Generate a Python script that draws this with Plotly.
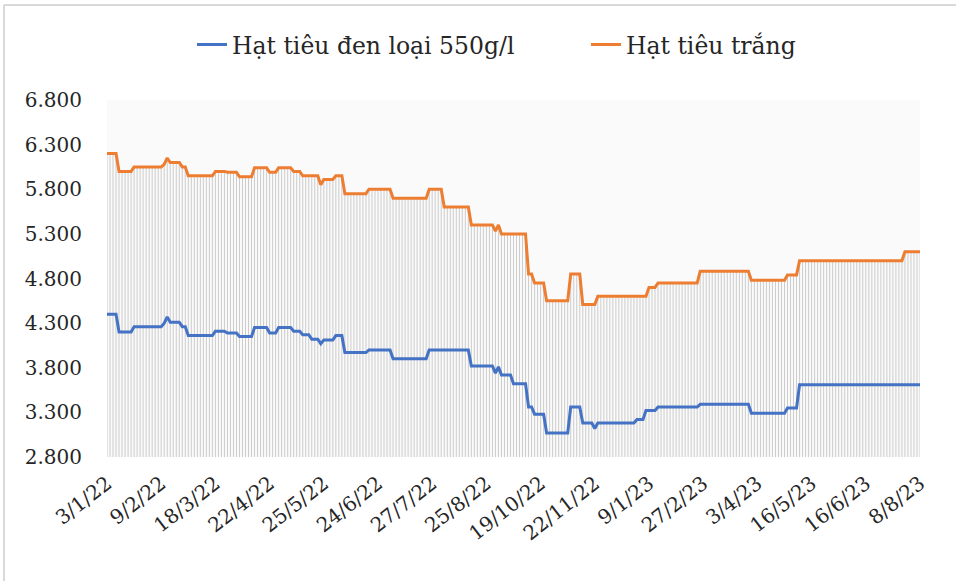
import plotly.graph_objects as go

# Step levels, with the number of consecutive daily
# observations that each level lasts.
white_levels = [6200, 6000, 6050, 6080, 6150, 6100, 6050, 5950, 6000, 5990, 5940, 6040,
                5990, 6040, 6000, 5950, 5950, 5850, 5910, 5950, 5750, 5800, 5700, 5800,
                5600, 5400, 5330, 5400, 5300, 5300, 4850, 4750, 4550, 4850, 4510, 4510,
                4600, 4600, 4600, 4700, 4750, 4880, 4780, 4840, 5000, 5100]
black_levels = [4400, 4200, 4260, 4300, 4370, 4310, 4260, 4160, 4210, 4190, 4150, 4250,
                4190, 4250, 4210, 4170, 4120, 4070, 4110, 4160, 3970, 4000, 3900, 4000,
                4000, 3820, 3740, 3810, 3720, 3620, 3360, 3280, 3070, 3360, 3180, 3120,
                3180, 3220, 3320, 3320, 3360, 3390, 3290, 3350, 3610, 3610]
run_lengths = [4, 5, 10, 1, 1, 4, 2, 9, 4, 4, 5, 5,
               3, 5, 3, 3, 3, 1, 4, 3, 8, 8, 12, 5,
               9, 8, 1, 1, 4, 5, 2, 4, 8, 4, 4, 1,
               13, 3, 1, 3, 14, 17, 12, 4, 35, 6]

tick_labels = ["3/1/22", "9/2/22", "18/3/22", "22/4/22", "25/5/22", "24/6/22", "27/7/22",
               "25/8/22", "19/10/22", "22/11/22", "9/1/23", "27/2/23", "3/4/23",
               "16/5/23", "16/6/23", "8/8/23"]
tick_step = 18

y_ticks = [2800, 3300, 3800, 4300, 4800, 5300, 5800, 6300, 6800]
y_tick_text = ["2.800", "3.300", "3.800", "4.300", "4.800", "5.300", "5.800", "6.300", "6.800"]

name_black = "Hạt tiêu đen loại 550g/l"
name_white = "Hạt tiêu trắng"

white = [v for v, n in zip(white_levels, run_lengths) for _ in range(n)]
black = [v for v, n in zip(black_levels, run_lengths) for _ in range(n)]
idx = list(range(len(white)))

# drop lines from each white-pepper point to the axis floor
drop_x, drop_y = [], []
for i, v in zip(idx, white):
    drop_x += [i, i, None]
    drop_y += [y_ticks[0], v, None]

fig = go.Figure()
fig.add_trace(go.Scatter(x=drop_x, y=drop_y, mode="lines",
                         line=dict(color="#cccccc", width=1),
                         showlegend=False, hoverinfo="skip"))
fig.add_trace(go.Scatter(x=idx, y=black, mode="lines", name=name_black,
                         line=dict(color="#4472C4", width=3), legend="legend"))
fig.add_trace(go.Scatter(x=idx, y=white, mode="lines", name=name_white,
                         line=dict(color="#ED7D31", width=3), legend="legend2"))

SERIF = "DejaVu Serif"
legend_common = dict(orientation="h", xanchor="left", y=1.155, yanchor="middle",
                     font=dict(size=23.5, color="#262626", family=SERIF),
                     bgcolor="rgba(0,0,0,0)")
fig.update_layout(
    width=956, height=581,
    margin=dict(l=107, r=36, t=100, b=124),
    paper_bgcolor="white",
    plot_bgcolor="#fafafa",
    font=dict(family=SERIF, color="#262626"),
    legend=dict(x=(192 - 107) / 813, **legend_common),
    legend2=dict(x=(586 - 107) / 813, **legend_common),
    xaxis=dict(range=[0, len(idx) - 1], tickmode="array",
               tickvals=[i * tick_step for i in range(len(tick_labels))],
               ticktext=tick_labels, tickangle=-38, showgrid=False, zeroline=False,
               showline=False, ticks="", automargin=False, ticklabelstandoff=10,
               tickfont=dict(size=20, color="#262626", family=SERIF)),
    yaxis=dict(range=[2800, 6800], tickmode="array", tickvals=y_ticks,
               ticktext=y_tick_text, showgrid=False, zeroline=False, showline=False,
               ticks="", ticklabelstandoff=24, automargin=False,
               tickfont=dict(size=20, color="#262626", family=SERIF)),
    shapes=[
        dict(type="line", xref="paper", yref="paper",
             x0=(4 - 107) / 813, x1=(956 - 107) / 813,
             y0=(457 - 5) / 357, y1=(457 - 5) / 357,
             line=dict(color="#d9d9d9", width=2)),
        dict(type="line", xref="paper", yref="paper",
             x0=(4 - 107) / 813, x1=(4 - 107) / 813,
             y0=(457 - 5) / 357, y1=(457 - 581) / 357,
             line=dict(color="#d9d9d9", width=2)),
    ],
)

fig.write_html("out.html", config={"displayModeBar": False},
               post_script="document.body.style.margin='0px';")
